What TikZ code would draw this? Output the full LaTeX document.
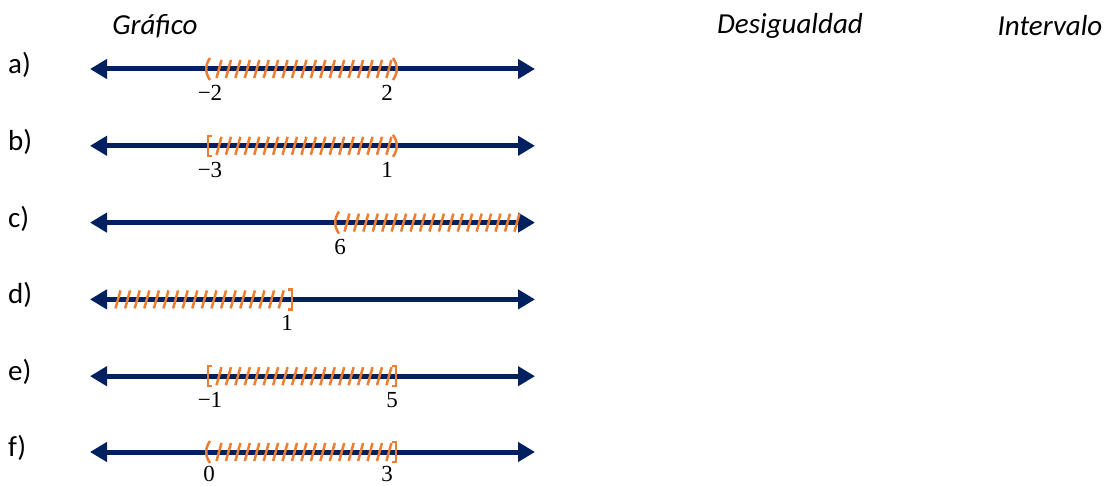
\documentclass[tikz,border=0pt]{standalone}
\usepackage{fontspec}
\setmainfont{Carlito}
\newfontfamily\numfont{Liberation Serif}
\usepackage{xcolor}
\usepackage{tikz}
\usetikzlibrary{arrows.meta}
\definecolor{navy}{HTML}{002060}
\definecolor{hatch}{HTML}{ED7D31}

\begin{document}
\begin{tikzpicture}[x=1pt, y=-1pt,
  axis/.style={navy, line width=5pt, {Triangle[length=17pt,width=19pt]}-{Triangle[length=17pt,width=19pt]}},
  shade/.style={hatch, line width=2.5pt},
  tick/.style={font=\fontsize{23}{25}\selectfont\numfont, inner sep=0pt},
  head/.style={font=\fontsize{29}{32}\selectfont\itshape, inner sep=0pt},
  item/.style={font=\fontsize{29}{32}\selectfont, inner sep=0pt, anchor=west}]
  \useasboundingbox (0,0) rectangle (1109,486);
  \node[head] (hgraf) at (155,26) {Gráfico};
  \node[head] (hdes) at (790,26) {Desigualdad};
  \node[head] (hint) at (1050,26) {Intervalo};
  % a)
  \begin{scope}[shift={(0,69)}]
    \node[item] (la) at (8,-4) {a)};
    \draw[axis] (90,0) -- (535,0);
    \draw[shade] (210,-11) .. controls (205,-4) and (205,4) .. (210,11);
    \foreach \i in {0,...,18} \draw[shade] ({219+9.44*\i-2.5},9) -- ({219+9.44*\i+2.5},-9);
    \draw[shade] (393,-11) .. controls (398,-4) and (398,4) .. (393,11);
    \node[tick] (ta1) at (210,24) {−2};
    \node[tick] (ta2) at (387,24) {2};
  \end{scope}
  % b)
  \begin{scope}[shift={(0,145.8)}]
    \node[item] (lb) at (8,-4) {b)};
    \draw[axis] (90,0) -- (535,0);
    \draw[shade] (212,-10) -- (208,-10) -- (208,10) -- (212,10);
    \foreach \i in {0,...,18} \draw[shade] ({219+9.44*\i-2.5},9) -- ({219+9.44*\i+2.5},-9);
    \draw[shade] (393,-11) .. controls (398,-4) and (398,4) .. (393,11);
    \node[tick] (tb1) at (210,24) {−3};
    \node[tick] (tb2) at (387,24) {1};
  \end{scope}
  % c)
  \begin{scope}[shift={(0,222.6)}]
    \node[item] (lc) at (8,-4) {c)};
    \draw[axis] (90,0) -- (535,0);
    \draw[shade] (339,-11) .. controls (334,-4) and (334,4) .. (339,11);
    \foreach \i in {0,...,18} \draw[shade] ({347+9.44*\i-2.5},9) -- ({347+9.44*\i+2.5},-9);
    \node[tick] (tc1) at (340,24) {6};
  \end{scope}
  % d)
  \begin{scope}[shift={(0,299.4)}]
    \node[item] (ld) at (8,-4) {d)};
    \draw[axis] (90,0) -- (535,0);
    \foreach \i in {0,...,17} \draw[shade] ({118+9.6*\i-2.5},9) -- ({118+9.6*\i+2.5},-9);
    \draw[shade] (288,-10) -- (292,-10) -- (292,10) -- (288,10);
    \node[tick] (td1) at (287,24) {1};
  \end{scope}
  % e)
  \begin{scope}[shift={(0,376.2)}]
    \node[item] (le) at (8,-4) {e)};
    \draw[axis] (90,0) -- (535,0);
    \draw[shade] (212,-10) -- (208,-10) -- (208,10) -- (212,10);
    \foreach \i in {0,...,18} \draw[shade] ({219+9.44*\i-2.5},9) -- ({219+9.44*\i+2.5},-9);
    \draw[shade] (392,-10) -- (396,-10) -- (396,10) -- (392,10);
    \node[tick] (te1) at (210,24) {−1};
    \node[tick] (te2) at (392,24) {5};
  \end{scope}
  % f)
  \begin{scope}[shift={(0,452)}]
    \node[item] (lf) at (8,-4) {f)};
    \draw[axis] (90,0) -- (535,0);
    \draw[shade] (210,-11) .. controls (205,-4) and (205,4) .. (210,11);
    \foreach \i in {0,...,18} \draw[shade] ({219+9.44*\i-2.5},9) -- ({219+9.44*\i+2.5},-9);
    \draw[shade] (392,-10) -- (396,-10) -- (396,10) -- (392,10);
    \node[tick] (tf1) at (209,22) {0};
    \node[tick] (tf2) at (387,22) {3};
  \end{scope}
\end{tikzpicture}
\end{document}
